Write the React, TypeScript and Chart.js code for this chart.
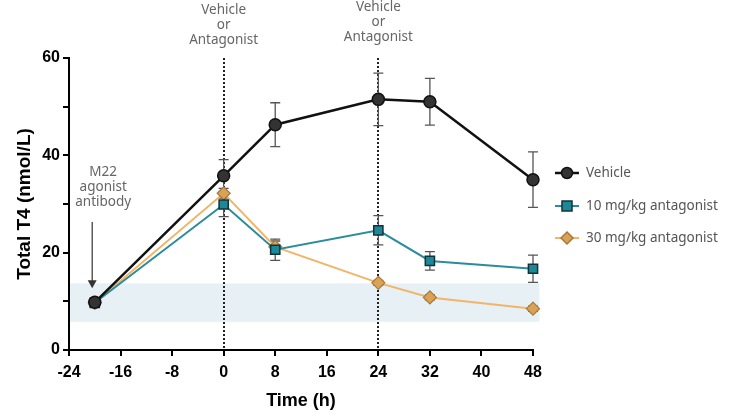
import React, { useEffect, useRef } from 'react';
import { Chart, registerables } from 'chart.js';
Chart.register(...registerables);

// ---- data ----
const times = [-20, 0, 8, 24, 32, 48];
const vehicle = [9.8, 35.8, 46.3, 51.5, 51.0, 35.0];
const vehicleErr = [0.8, 3.3, 4.5, 5.4, 4.8, 5.7];
const antag10 = [9.7, 29.9, 20.6, 24.6, 18.3, 16.7];
const antag10Err = [0.8, 2.5, 2.2, 3.0, 1.9, 2.8];
const antag30 = [9.7, 32.2, 21.2, 13.8, 10.8, 8.5];
const antag30Err = [0.5, 1.0, 1.2, 0.5, 0.5, 0.5];
const seriesNames = ['Vehicle', '10 mg/kg antagonist', '30 mg/kg antagonist'];
const doseTimes = [0, 24];
const doseLabel = ['Vehicle', 'or', 'Antagonist'];
const agonistLabel = ['M22', 'agonist', 'antibody'];
const agonistTime = -20.4;
const arrowFrom = 26.3;
const arrowTo = 12.7;
const bandLow = 5.8;
const bandHigh = 13.7;
const bandEnd = 49;
const xMin = -24, xMax = 48, xStep = 8;
const yMin = 0, yMax = 60, yLabelStep = 20;

const COLORS = {
  vehicleLine: '#111111', vehiclePoint: '#333333',
  tealLine: '#2b8c9c', tealPoint: '#1d8898', tealBorder: '#12323a',
  orangeLine: '#f2b468', orangePoint: '#dba155', orangeBorder: '#a8793a',
  band: '#e7f1f5', text: '#666666', err: '#555555',
};

const annotFont = '13.5px "Noto Sans", "Open Sans", sans-serif';
const boldFamily = '"Liberation Sans", Arial, sans-serif';

export default function App() {
  const ref = useRef<HTMLCanvasElement>(null);
  useEffect(() => {
    document.body.style.margin = '0';
    const canvas = ref.current!;
    const errs = [vehicleErr, antag10Err, antag30Err];
    const errPlugin = {
      id: 'extras',
      beforeDraw(chart: any) {
        const { ctx, chartArea, scales } = chart;
        const x = scales.x, y = scales.y;
        ctx.save();
        ctx.fillStyle = COLORS.band;
        const x0 = chartArea.left + 1;
        const x1 = x.getPixelForValue(bandEnd);
        const yt = y.getPixelForValue(bandHigh), yb = y.getPixelForValue(bandLow);
        ctx.fillRect(x0, yt, x1 - x0, yb - yt);
        ctx.restore();
      },
      beforeDatasetsDraw(chart: any) {
        const { ctx, scales } = chart;
        const x = scales.x, y = scales.y;
        ctx.save();
        ctx.strokeStyle = '#222';
        ctx.lineWidth = 2;
        ctx.setLineDash([2, 2]);
        doseTimes.forEach((t) => {
          const px = Math.round(x.getPixelForValue(t));
          ctx.beginPath();
          ctx.moveTo(px, y.getPixelForValue(yMax));
          ctx.lineTo(px, y.getPixelForValue(yMin));
          ctx.stroke();
        });
        ctx.setLineDash([]);
        ctx.strokeStyle = COLORS.err;
        ctx.lineWidth = 1.3;
        chart.data.datasets.forEach((ds: any, i: number) => {
          ds.data.forEach((p: any, j: number) => {
            const e = errs[i][j];
            const px = x.getPixelForValue(p.x);
            const top = y.getPixelForValue(p.y + e);
            const bot = y.getPixelForValue(p.y - e);
            ctx.beginPath();
            ctx.moveTo(px, top); ctx.lineTo(px, bot);
            ctx.moveTo(px - 5, top); ctx.lineTo(px + 5, top);
            ctx.moveTo(px - 5, bot); ctx.lineTo(px + 5, bot);
            ctx.stroke();
          });
        });
        ctx.restore();
      },
      afterDraw(chart: any) {
        const { ctx, chartArea, scales } = chart;
        const x = scales.x, y = scales.y;
        ctx.save();
        ctx.font = annotFont;
        ctx.fillStyle = COLORS.text;
        ctx.textAlign = 'center';
        ctx.textBaseline = 'middle';
        doseTimes.forEach((t, k) => {
          const px = x.getPixelForValue(t);
          const base = k === 0 ? 10 : 7;
          doseLabel.forEach((s, i) => ctx.fillText(s, px, base + i * 15));
        });
        const ax = x.getPixelForValue(agonistTime);
        agonistLabel.forEach((s, i) => ctx.fillText(s, ax + 11, 172 + i * 15));
        ctx.strokeStyle = '#333';
        ctx.fillStyle = '#333';
        ctx.lineWidth = 1.2;
        const ya = y.getPixelForValue(arrowFrom), yb = y.getPixelForValue(arrowTo);
        ctx.beginPath();
        ctx.moveTo(ax, ya); ctx.lineTo(ax, yb - 6); ctx.stroke();
        ctx.beginPath();
        ctx.moveTo(ax - 4.5, yb - 8); ctx.lineTo(ax + 4.5, yb - 8); ctx.lineTo(ax, yb); ctx.closePath(); ctx.fill();
        const lx = chartArea.right + 22;
        const lys = [173, 206, 238];
        chart.data.datasets.forEach((ds: any, i: number) => {
          const ly = lys[i];
          ctx.strokeStyle = ds.borderColor;
          ctx.lineWidth = ds.borderWidth;
          ctx.beginPath(); ctx.moveTo(lx, ly); ctx.lineTo(lx + 24, ly); ctx.stroke();
          const cx = lx + 12;
          ctx.fillStyle = ds.pointBackgroundColor;
          ctx.strokeStyle = ds.pointBorderColor;
          ctx.lineWidth = 1.5;
          ctx.beginPath();
          if (ds.pointStyle === 'circle') ctx.arc(cx, ly, 5.5, 0, Math.PI * 2);
          else if (ds.pointStyle === 'rect') ctx.rect(cx - 5, ly - 5, 10, 10);
          else { ctx.moveTo(cx, ly - 6); ctx.lineTo(cx + 6, ly); ctx.lineTo(cx, ly + 6); ctx.lineTo(cx - 6, ly); ctx.closePath(); }
          ctx.fill(); ctx.stroke();
          ctx.fillStyle = '#555';
          ctx.font = annotFont;
          ctx.textAlign = 'left';
          ctx.fillText(seriesNames[i], lx + 31, ly);
        });
        ctx.restore();
      },
    };

    const mk = (vals: number[]) => times.map((t, i) => ({ x: t, y: vals[i] }));
    const chart = new Chart(canvas, {
      type: 'line',
      data: {
        datasets: [
          { label: seriesNames[0], data: mk(vehicle), borderColor: COLORS.vehicleLine, borderWidth: 2.5, clip: false,
            pointStyle: 'circle', pointRadius: 6, pointBackgroundColor: COLORS.vehiclePoint, pointBorderColor: '#111', pointBorderWidth: 1.5 },
          { label: seriesNames[1], data: mk(antag10), borderColor: COLORS.tealLine, borderWidth: 2, clip: false,
            pointStyle: 'rect', pointRadius: 6.5, pointBackgroundColor: COLORS.tealPoint, pointBorderColor: COLORS.tealBorder, pointBorderWidth: 1.5 },
          { label: seriesNames[2], data: mk(antag30), borderColor: COLORS.orangeLine, borderWidth: 2, clip: false,
            pointStyle: 'rectRot', pointRadius: 6.5, pointBackgroundColor: COLORS.orangePoint, pointBorderColor: COLORS.orangeBorder, pointBorderWidth: 1.2 },
        ] as any,
      },
      options: {
        animation: false,
        responsive: false,
        events: [],
        layout: { padding: { top: 58, right: 198, left: 0, bottom: 0 } },
        plugins: { legend: { display: false }, tooltip: { enabled: false } },
        scales: {
          x: {
            type: 'linear', min: xMin, max: xMax,
            afterFit: (s: any) => { s.height = 66; },
            ticks: { stepSize: xStep, color: '#000', padding: 7, font: { family: boldFamily, size: 16, weight: 'bold' } },
            grid: { drawOnChartArea: false, drawTicks: true, tickLength: 6, color: '#000', lineWidth: 2 },
            border: { display: true, color: '#000', width: 2 },
            title: { display: true, text: 'Time (h)', color: '#000', padding: { top: 4, bottom: 4 }, font: { family: boldFamily, size: 18, weight: 'bold' } },
          },
          y: {
            type: 'linear', min: yMin, max: yMax,
            afterFit: (s: any) => { s.width = 69; },
            ticks: { stepSize: 10, color: '#000', padding: 3,
              callback: (v: any) => (Number(v) % yLabelStep === 0 ? String(v) : ''),
              font: { family: boldFamily, size: 16, weight: 'bold' } },
            grid: { drawOnChartArea: false, drawTicks: true, tickLength: 6, color: '#000', lineWidth: 2 },
            border: { display: true, color: '#000', width: 2 },
            title: { display: true, text: 'Total T4 (nmol/L)', color: '#000', padding: { top: 13, bottom: 0 }, font: { family: boldFamily, size: 19, weight: 'bold' } },
          },
        },
      } as any,
      plugins: [errPlugin],
    });
    return () => chart.destroy();
  }, []);
  return (
    <div style={{ width: 731, height: 416 }}>
      <canvas ref={ref} width={731} height={416} style={{ display: 'block' }} />
    </div>
  );
}
